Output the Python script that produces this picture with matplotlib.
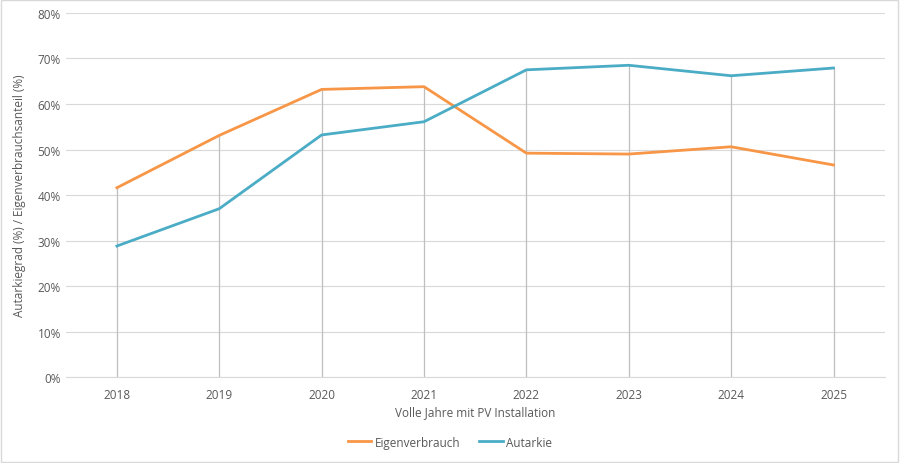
import matplotlib.pyplot as plt
from matplotlib.ticker import PercentFormatter
from matplotlib.patches import Rectangle

plt.rcParams['font.family'] = ['Open Sans', 'DejaVu Sans']

years = [2018, 2019, 2020, 2021, 2022, 2023, 2024, 2025]
eigenverbrauch = [41.6, 53.1, 63.2, 63.8, 49.2, 49.0, 50.6, 46.6]
autarkie = [28.8, 37.0, 53.2, 56.1, 67.5, 68.5, 66.2, 67.9]

fig = plt.figure(figsize=(9, 4.64), dpi=100)
ax = fig.add_axes([0.073, 0.185, 0.910, 0.785])

# drop lines from the higher point down to the axis
tops = [max(a, b) for a, b in zip(eigenverbrauch, autarkie)]
ax.vlines(years, 0, tops, color='#bfbfbf', lw=0.9, zorder=2)

ax.plot(years, eigenverbrauch, color='#f79646', lw=2.0, label='Eigenverbrauch', zorder=3)
ax.plot(years, autarkie, color='#4bacc6', lw=2.0, label='Autarkie', zorder=3)

ax.set_xlim(2017.5, 2025.5)
ax.set_ylim(0, 80)
ax.set_yticks(range(0, 81, 10))
ax.yaxis.set_major_formatter(PercentFormatter(decimals=0))
ax.set_xticks(years)
ax.grid(axis='y', color='#d9d9d9', lw=0.8)
ax.set_axisbelow(True)
for s in ['top', 'right', 'left']:
    ax.spines[s].set_visible(False)
ax.spines['bottom'].set_color('#d9d9d9')
ax.tick_params(length=0, colors='#595959', labelsize=8.5)
ax.tick_params(axis='x', pad=8)
ax.set_xlabel('Volle Jahre mit PV Installation', color='#595959', fontsize=8.5, labelpad=3)
ax.set_ylabel('Autarkiegrad (%) / Eigenverbrauchsanteil (%)', color='#595959', fontsize=8.5, labelpad=8)

fig.legend(loc='center', bbox_to_anchor=(0.5, 0.045), ncol=2, frameon=False,
           fontsize=8.5, labelcolor='#595959', handlelength=2.0, columnspacing=1.6,
           handletextpad=0.3)

fig.patches.append(Rectangle((0.001, 0.002), 0.997, 0.996, transform=fig.transFigure,
                             fill=False, edgecolor='#d9d9d9', lw=1.0))

fig.savefig('out.png', dpi=100)
